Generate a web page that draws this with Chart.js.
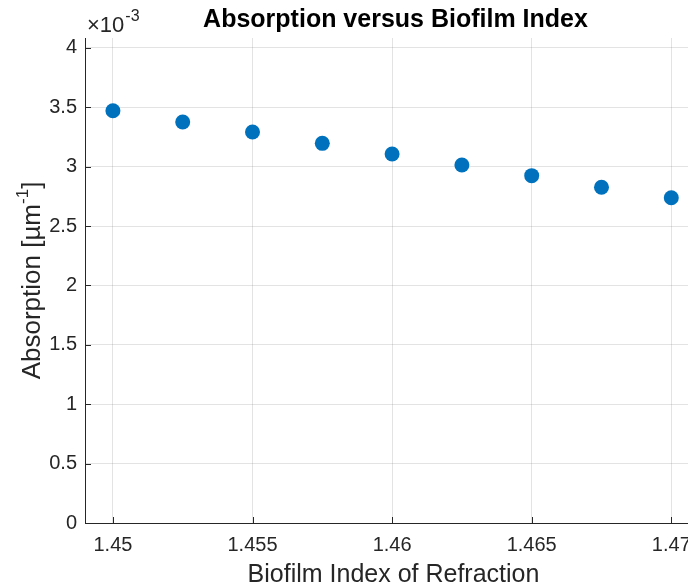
<!DOCTYPE html>
<html>
<head>
<meta charset="utf-8">
<script src="https://cdn.jsdelivr.net/npm/chart.js@4"></script>
<style>
  html, body { margin: 0; padding: 0; background: #fff; overflow: hidden; }
  #wrap { width: 688px; height: 585px; overflow: hidden; }
</style>
</head>
<body>
<div id="wrap"><canvas id="absChart" width="710" height="585"></canvas></div>
<script>
// Biofilm index of refraction vs absorption (absorption in units of 1e-3 per µm)
const refractiveIndex = [1.45, 1.4525, 1.455, 1.4575, 1.46, 1.4625, 1.465, 1.4675, 1.47];
const absorption = [3.472, 3.377, 3.293, 3.197, 3.107, 3.015, 2.925, 2.827, 2.739];

const xTicks = [1.45, 1.455, 1.46, 1.465, 1.47];
const yTicks = [0, 0.5, 1, 1.5, 2, 2.5, 3, 3.5, 4];

const FONT = '"Liberation Sans", Arial, Helvetica, sans-serif';
const AXIS_COLOR = '#262626';

// title, axis labels, exponent and inward tick marks (MATLAB style)
const matlabAxes = {
    id: 'matlabAxes',
    afterDraw(chart) {
        const ctx = chart.ctx;
        const area = chart.chartArea;
        const xs = chart.scales.x;
        const ys = chart.scales.y;
        const cx = (area.left + area.right) / 2;

        ctx.save();

        // tick marks pointing into the axes
        ctx.strokeStyle = AXIS_COLOR;
        ctx.lineWidth = 1;
        ctx.beginPath();
        xTicks.forEach(function(v) {
            const px = Math.round(xs.getPixelForValue(v)) + 0.5;
            ctx.moveTo(px, area.bottom);
            ctx.lineTo(px, area.bottom - 6);
        });
        yTicks.forEach(function(v) {
            const py = Math.round(ys.getPixelForValue(v)) + 0.5;
            ctx.moveTo(area.left, py);
            ctx.lineTo(area.left + 6, py);
        });
        ctx.stroke();

        // title
        ctx.fillStyle = '#000';
        ctx.font = 'bold 25px ' + FONT;
        ctx.textAlign = 'center';
        ctx.textBaseline = 'alphabetic';
        ctx.fillText('Absorption versus Biofilm Index', cx + 2, 27);

        // x axis label
        ctx.fillStyle = AXIS_COLOR;
        ctx.font = '25px ' + FONT;
        ctx.fillText('Biofilm Index of Refraction', cx, 582);

        // exponent above the y axis
        ctx.textAlign = 'left';
        ctx.font = '22px ' + FONT;
        ctx.fillText('\u00d710', area.left + 2, 32);
        const w10 = ctx.measureText('\u00d710').width;
        ctx.font = '16px ' + FONT;
        ctx.fillText('-3', area.left + 3 + w10, 21);

        // y axis label with superscript
        const main = 'Absorption [\u00b5m';
        const sup = '-1';
        const close = ']';
        ctx.font = '26px ' + FONT;
        const wMain = ctx.measureText(main).width;
        const wClose = ctx.measureText(close).width;
        ctx.font = '17px ' + FONT;
        const wSup = ctx.measureText(sup).width;
        const total = wMain + wSup + wClose;
        ctx.translate(40, (area.top + area.bottom) / 2);
        ctx.rotate(-Math.PI / 2);
        let x0 = -total / 2;
        ctx.font = '26px ' + FONT;
        ctx.fillText(main, x0, 0);
        ctx.font = '17px ' + FONT;
        ctx.fillText(sup, x0 + wMain, -12);
        ctx.font = '26px ' + FONT;
        ctx.fillText(close, x0 + wMain + wSup, 0);

        ctx.restore();
    }
};

document.addEventListener('DOMContentLoaded', function() {
    const ctx = document.getElementById('absChart');
    new Chart(ctx, {
        type: 'scatter',
        data: {
            datasets: [{
                label: 'Absorption',
                data: refractiveIndex.map(function(n, i) {
                    return { x: n, y: absorption[i] };
                }),
                backgroundColor: '#0072BD',
                borderWidth: 0,
                pointRadius: 7.5,
                pointHoverRadius: 7.5
            }]
        },
        options: {
            responsive: false,
            animation: false,
            layout: {
                padding: { top: 38, right: 8, left: 0, bottom: 0 }
            },
            plugins: {
                legend: { display: false },
                tooltip: { enabled: false },
                title: { display: false }
            },
            scales: {
                x: {
                    type: 'linear',
                    min: 1.449,
                    max: 1.4711,
                    afterFit: function(scale) { scale.height = 62; },
                    afterBuildTicks: function(scale) {
                        scale.ticks = xTicks.map(function(v) { return { value: v }; });
                    },
                    grid: {
                        color: 'rgba(38, 38, 38, 0.13)',
                        drawTicks: false
                    },
                    border: { display: true, color: AXIS_COLOR, width: 1 },
                    ticks: {
                        padding: 10,
                        color: AXIS_COLOR,
                        maxRotation: 0,
                        font: { family: FONT, size: 20 },
                        callback: function(value) { return String(value); }
                    }
                },
                y: {
                    type: 'linear',
                    min: 0,
                    max: 4.084,
                    afterFit: function(scale) { scale.width = 85; },
                    afterBuildTicks: function(scale) {
                        scale.ticks = yTicks.map(function(v) { return { value: v }; });
                    },
                    grid: {
                        color: 'rgba(38, 38, 38, 0.13)',
                        drawTicks: false
                    },
                    border: { display: true, color: AXIS_COLOR, width: 1 },
                    ticks: {
                        padding: 8,
                        color: AXIS_COLOR,
                        font: { family: FONT, size: 20 },
                        callback: function(value) { return String(value); }
                    }
                }
            }
        },
        plugins: [matlabAxes]
    });
});
</script>
</body>
</html>
